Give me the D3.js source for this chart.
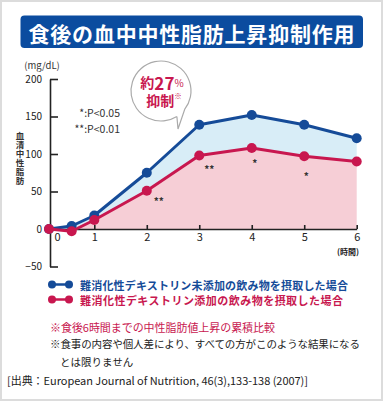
<!DOCTYPE html>
<html><head><meta charset="utf-8">
<script src="https://cdn.jsdelivr.net/npm/d3@7"></script>
<style>
html,body{margin:0;padding:0;background:#fff;}
svg text{font-family:"Noto Sans CJK JP","Noto Sans",sans-serif;}
</style></head>
<body><svg id="c" width="383" height="401"></svg>
<script>
const times = [0, 0.5, 1, 2, 3, 4, 5, 6];
const control = [0, 4, 18, 75, 139, 152, 139, 121];     // 未添加
const dextrin = [0, -3, 12, 51, 98, 108, 97, 90];      // 添加
const signif = ["", "", "", "**", "**", "*", "*", ""];
const yTicks = [-50, 0, 50, 100, 150, 200];
const xTicks = [0, 1, 2, 3, 4, 5, 6];
const legendLabels = ["難消化性デキストリン未添加の飲み物を摂取した場合", "難消化性デキストリン添加の飲み物を摂取した場合"];
const titleText = "食後の血中中性脂肪上昇抑制作用";

const BLUE = "#154b98", RED = "#c8174f", LBLUE = "#d8edf7", PINK = "#f6ced6";
const svg = d3.select("#c");

svg.append("rect").attr("x",1).attr("y",1).attr("width",381).attr("height",399)
  .attr("fill","#fff").attr("stroke","#dcdcdc").attr("stroke-width",2);

// title
svg.append("rect").attr("x",20.5).attr("y",15.5).attr("width",342.5).attr("height",32.5)
  .attr("rx",4).attr("fill","#0b4c9f");
svg.append("text").attr("x",191.5).attr("y",32.5).attr("text-anchor","middle")
  .attr("dominant-baseline","central").attr("fill","#fff").attr("font-size",21)
  .attr("font-weight","bold").attr("textLength",326).attr("lengthAdjust","spacing").text(titleText);

const x = d3.scaleLinear().domain([0, 1, 6]).range([49, 94.3, 356.7]);
const y = d3.scaleLinear().domain([-50, 200]).range([266.5, 79]);

const data = times.map((t,i)=>({t, c:control[i], d:dextrin[i], s:signif[i], i}));

// fills
svg.append("path").datum(data).attr("fill",LBLUE)
  .attr("d", d3.area().x(d=>x(d.t)).y0(d=>y(d.d)).y1(d=>y(d.c)));
svg.append("path").datum(data).attr("fill",PINK)
  .attr("d", d3.area().x(d=>x(d.t)).y0(y(0)).y1(d=>y(Math.max(0,d.d))));

// y axis
const ya = svg.append("g").attr("transform","translate(50,0)")
  .call(d3.axisLeft(y).tickValues(yTicks).tickSizeInner(-8).tickSizeOuter(0).tickPadding(8));
ya.select(".domain").attr("stroke","#222").attr("stroke-width",1.6);
ya.selectAll(".tick line").attr("stroke","#222").attr("stroke-width",1.6);
ya.selectAll(".tick text").attr("font-size",10).attr("fill","#222")
  .attr("font-family","'Noto Sans CJK JP',sans-serif");

// x axis
const xa = svg.append("g").attr("transform",`translate(0,${y(0)})`)
  .call(d3.axisBottom(x).tickValues(xTicks).tickFormat(d3.format("d"))
    .tickSizeInner(-4).tickSizeOuter(0).tickPadding(4));
xa.select(".domain").attr("stroke","#222").attr("stroke-width",1.6);
xa.selectAll(".tick line").attr("stroke","#222").attr("stroke-width",1.6)
  .attr("opacity", d=> d===0 ? 0 : 1);
xa.selectAll(".tick text").attr("font-size",11).attr("fill","#222")
  .attr("font-family","'Noto Sans CJK JP',sans-serif")
  .attr("dx", d=> d===0 ? 8 : 0);
svg.append("text").attr("x",348).attr("y",251).attr("text-anchor","middle")
  .attr("dominant-baseline","central").attr("font-size",8).attr("font-weight","bold")
  .attr("fill","#222").text("(時間)");

// lines
const series = [{k:"c", col:BLUE},{k:"d", col:RED}];
series.forEach(s=>{
  svg.append("path").datum(data).attr("fill","none").attr("stroke",s.col).attr("stroke-width",3)
    .attr("stroke-linejoin","round")
    .attr("d", d3.line().x(d=>x(d.t)).y(d=>y(d[s.k])));
  svg.append("g").selectAll("circle").data(data).join("circle")
    .attr("cx",d=>x(d.t)).attr("cy",d=>y(d[s.k])).attr("r",5).attr("fill",s.col);
});

// significance marks
const starOff = {3:[12,10], 4:[10,13], 5:[3,14], 6:[2,19]};
svg.append("g").selectAll("text").data(data.filter(d=>d.s))
  .join("text")
  .attr("x",d=>x(d.t)+starOff[d.i][0]).attr("y",d=>y(d.d)+starOff[d.i][1])
  .attr("text-anchor","middle").attr("dominant-baseline","central")
  .attr("font-size",10).attr("font-weight","bold").attr("fill","#333")
  .attr("font-family","'DejaVu Sans',sans-serif").text(d=>d.s);

// units and labels
svg.append("text").attr("x",42).attr("y",65).attr("text-anchor","middle")
  .attr("dominant-baseline","central").attr("font-size",9.5).attr("fill","#333").text("(mg/dL)");
svg.append("text").attr("x",20).attr("y",132)
  .style("writing-mode","vertical-rl").style("letter-spacing","0.4px")
  .attr("font-size",8.5).attr("font-weight","bold").attr("fill","#333").text("血清中性脂肪");
svg.append("text").attr("x",120).attr("y",112).attr("text-anchor","end")
  .attr("dominant-baseline","central").attr("font-size",10.5).attr("fill","#333").text("*:P<0.05");
svg.append("text").attr("x",120).attr("y",128).attr("text-anchor","end")
  .attr("dominant-baseline","central").attr("font-size",10.5).attr("fill","#333").text("**:P<0.01");

// bubble
const bx=161, by=91, br=30;
const a1 = 58*Math.PI/180, a2 = 38*Math.PI/180;
const bubble = d3.path();
bubble.moveTo(bx+br*Math.cos(a1), by+br*Math.sin(a1));
bubble.lineTo(178,129);
bubble.lineTo(bx+br*Math.cos(a2), by+br*Math.sin(a2));
bubble.arc(bx,by,br,a2,a1, true);
svg.append("path").attr("d",bubble.toString()).attr("fill","#fff").attr("stroke","#aaa").attr("stroke-width",1.2);
const t1 = svg.append("text").attr("x",162).attr("y",81.5).attr("text-anchor","middle")
  .attr("dominant-baseline","central").attr("fill",RED).attr("font-weight","bold");
t1.append("tspan").attr("font-size",14).text("約");
t1.append("tspan").attr("font-size",17).text("27");
t1.append("tspan").attr("font-size",10).attr("font-weight","normal").text("%");
const t2 = svg.append("text").attr("x",164).attr("y",99.5).attr("text-anchor","middle")
  .attr("dominant-baseline","central").attr("fill",RED).attr("font-weight","bold");
t2.append("tspan").attr("font-size",14).text("抑制");
t2.append("tspan").attr("font-size",7.5).attr("dy",-5).attr("font-weight","normal").text("※");

// legend
const lg = svg.append("g").selectAll("g").data(series).join("g")
  .attr("transform",(d,i)=>`translate(0,${284.5+i*15})`);
lg.append("line").attr("x1",52).attr("x2",69).attr("stroke",d=>d.col).attr("stroke-width",2.5);
lg.append("circle").attr("cx",52).attr("r",4).attr("fill",d=>d.col);
lg.append("circle").attr("cx",69).attr("r",4).attr("fill",d=>d.col);
lg.append("text").attr("x",80).attr("dominant-baseline","central").attr("font-size",11)
  .attr("font-weight","bold").attr("fill",d=>d.col)
  .attr("textLength",(d,i)=> i===0 ? 268 : 263).attr("lengthAdjust","spacing")
  .text((d,i)=>legendLabels[i]);

// notes
svg.append("text").attr("x",50).attr("y",327).attr("dominant-baseline","central")
  .attr("font-size",11).attr("fill",RED).attr("textLength",225).attr("lengthAdjust","spacing")
  .text("※食後6時間までの中性脂肪値上昇の累積比較");
svg.append("text").attr("x",50).attr("y",343).attr("dominant-baseline","central")
  .attr("font-size",10.5).attr("fill","#222").attr("textLength",310).attr("lengthAdjust","spacing")
  .text("※食事の内容や個人差により、すべての方がこのような結果になる");
svg.append("text").attr("x",60).attr("y",361).attr("dominant-baseline","central")
  .attr("font-size",10.5).attr("fill","#222").text("とは限りません");
svg.append("text").attr("x",7).attr("y",380).attr("dominant-baseline","central")
  .attr("font-size",11).attr("fill","#222").attr("textLength",301).attr("lengthAdjust","spacing")
  .text("[出典：European Journal of Nutrition, 46(3),133-138 (2007)]");
</script></body></html>
